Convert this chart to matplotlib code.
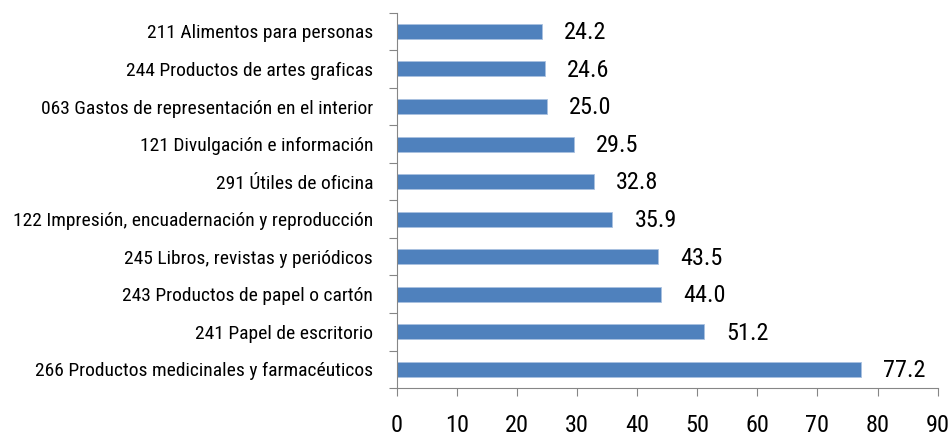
import numpy as np
import matplotlib
matplotlib.use('Agg')
import matplotlib.pyplot as plt

categories = [
    "266 Productos medicinales y farmacéuticos",
    "241 Papel de escritorio",
    "243 Productos de papel o cartón",
    "245 Libros, revistas y periódicos",
    "122 Impresión, encuadernación y reproducción",
    "291 Útiles de oficina",
    "121 Divulgación e información",
    "063 Gastos de representación en el interior",
    "244 Productos de artes graficas",
    "211 Alimentos para personas",
]
values = [77.2, 51.2, 44.0, 43.5, 35.9, 32.8, 29.5, 25.0, 24.6, 24.2]
x_ticks = [0, 10, 20, 30, 40, 50, 60, 70, 80, 90]

plt.rcParams['font.family'] = ['Roboto Condensed', 'DejaVu Sans']

fig = plt.figure(figsize=(9.49, 4.37), dpi=100)
ax = fig.add_axes([0.418, 0.112, 0.570, 0.859])

y = np.arange(len(categories))
ax.barh(y, values, height=0.4, color='#4F81BD', edgecolor='#A9C1E0', linewidth=0.6)

for yi, v in zip(y, values):
    ax.annotate(f"{v:.1f}", (v, yi), xytext=(16, -1), textcoords='offset points',
                va='center', ha='left', fontsize=17.5)

ax.set_xlim(0, 90)
ax.set_ylim(-0.5, len(categories) - 0.5)
ax.set_xticks(x_ticks)
ax.set_xticklabels([str(t) for t in x_ticks], fontsize=17.5)
ax.set_yticks(np.arange(-0.5, len(categories)), labels=[])
ax.set_yticks(y, minor=True)
ax.set_yticklabels(categories, minor=True, fontsize=14)
ax.tick_params(axis='y', which='minor', length=0, pad=17)
ax.tick_params(axis='y', which='major', length=6, color='#868686', direction='out')
ax.tick_params(axis='x', length=6, color='#868686', pad=13)

for s in ['top', 'right']:
    ax.spines[s].set_visible(False)
for s in ['left', 'bottom']:
    ax.spines[s].set_color('#868686')

fig.savefig('out.png', dpi=100)
